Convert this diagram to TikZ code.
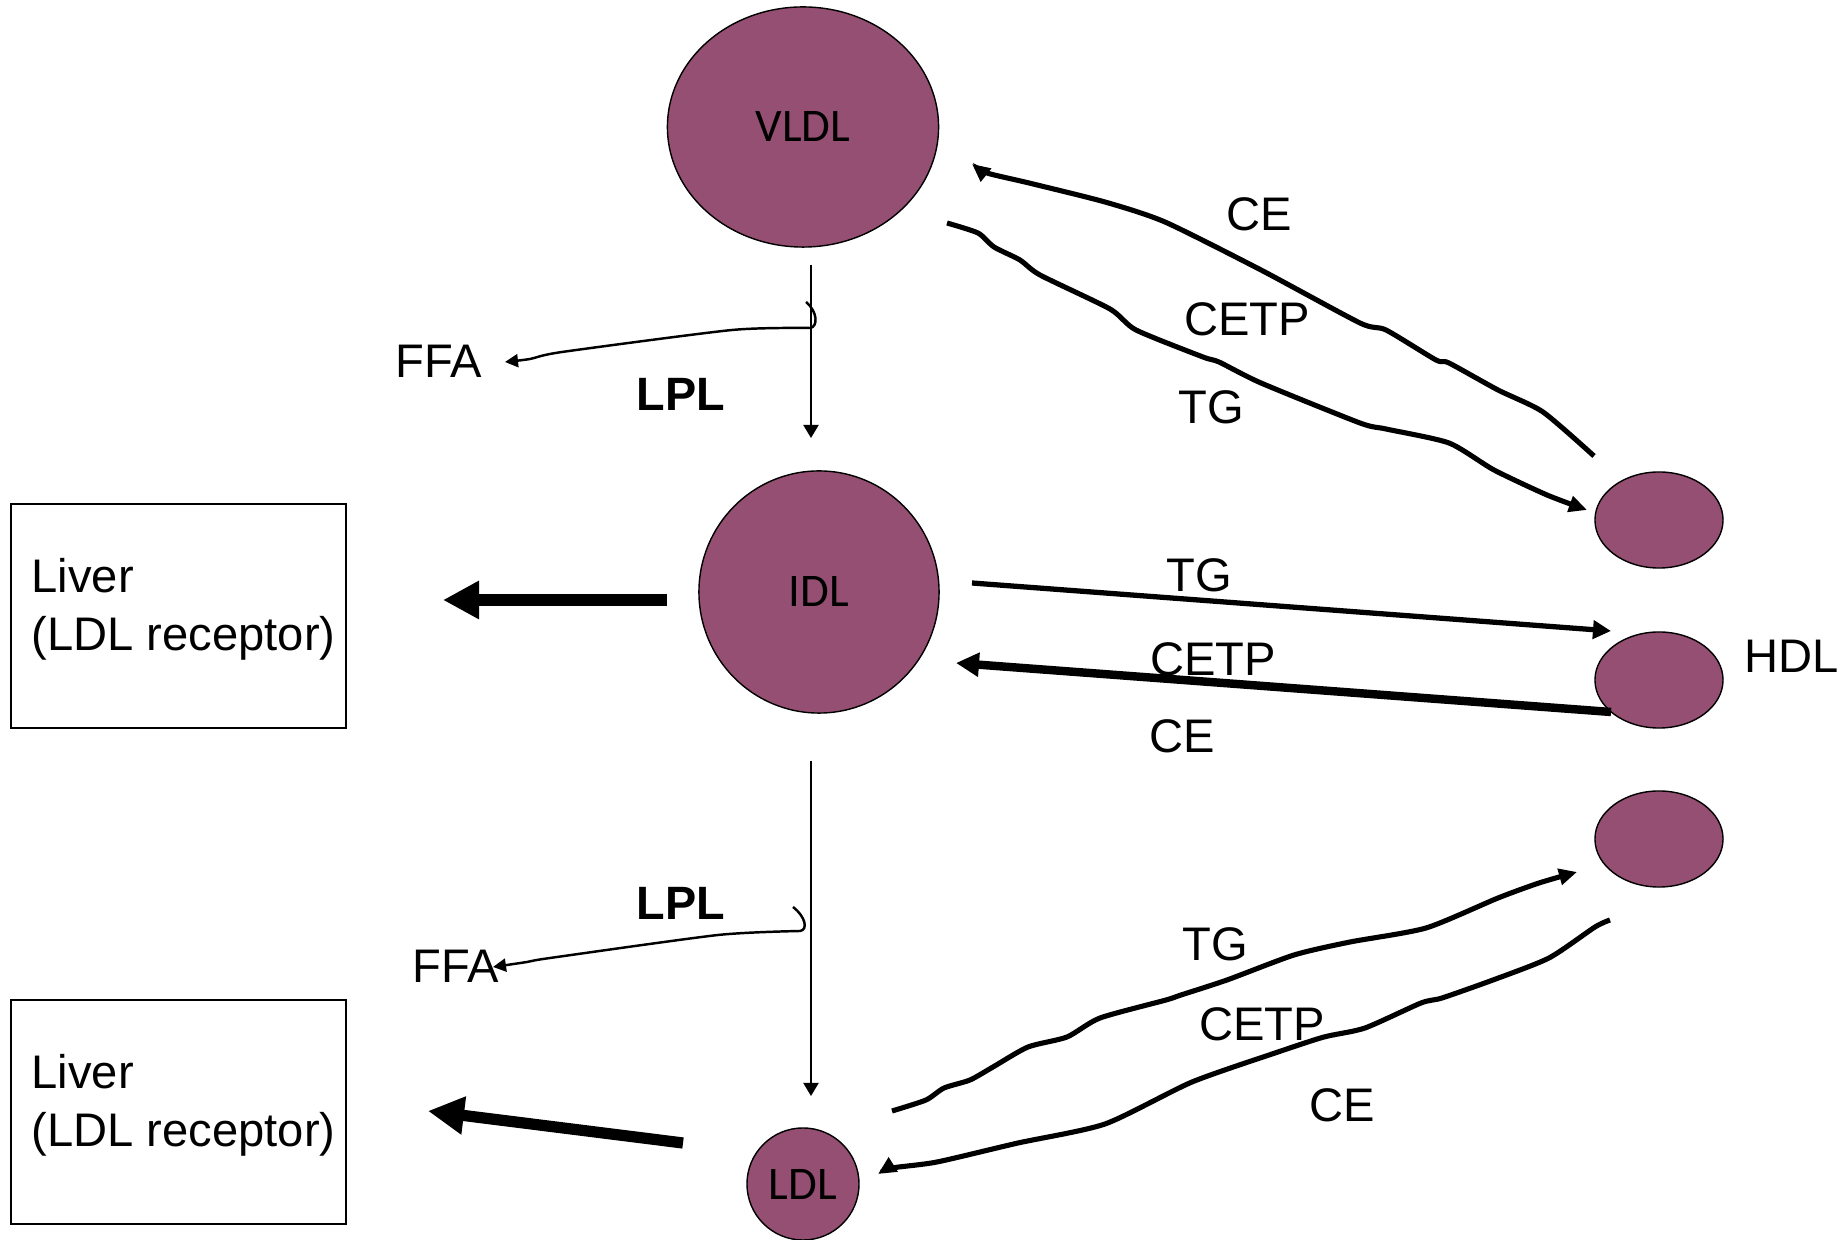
\documentclass[tikz,border=0pt]{standalone}
\usepackage{fontspec}
\setmainfont{Liberation Sans}
\newfontfamily\calfont{Carlito}
\usetikzlibrary{shapes.geometric,arrows.meta,positioning}
\definecolor{lipo}{RGB}{149,79,114}
\tikzset{
  particle/.style={draw,ellipse,fill=lipo,line width=0.4pt,inner sep=0pt,font=\calfont\fontsize{13.3}{16}\selectfont},
  lbl/.style={inner sep=0pt,font=\fontsize{13.4}{16.5}\selectfont},
  lblb/.style={inner sep=0pt,font=\bfseries\fontsize{13.3}{16}\selectfont},
  liverbox/.style={draw,line width=0.6pt,minimum width=3.35cm,minimum height=2.24cm,inner sep=0pt},
  thinarr/.style={line width=0.6pt,-{Triangle[length=0.13cm,width=0.15cm]}},
  ffaarr/.style={line width=0.7pt,-{Triangle[length=0.13cm,width=0.13cm]}},
  wave/.style={line width=1.45pt,-{Triangle[length=0.18cm,width=0.16cm]}},
  midarr/.style={line width=1.5pt,-{Triangle[length=0.18cm,width=0.18cm]}},
  midarrb/.style={line width=2.4pt,-{Triangle[length=0.23cm,width=0.23cm]}},
  bigarr/.style={line width=3.2pt,-{Triangle[length=0.36cm,width=0.36cm]}}
}
\begin{document}
\begin{tikzpicture}[x=0.01cm,y=-0.01cm]
    \useasboundingbox (0,0) rectangle (1847,1240);
    \node[particle,minimum width=2.71cm,minimum height=2.40cm](vldl)at (803,127){VLDL};
    \node[particle,minimum width=2.40cm,minimum height=2.42cm](idl)at (819,592){IDL};
    \node[particle,minimum width=1.12cm,minimum height=1.12cm](ldl)at (803,1184){LDL};
    \node[particle,minimum width=1.28cm,minimum height=0.96cm](hdl1)at (1659,520){};
    \node[particle,minimum width=1.28cm,minimum height=0.96cm](hdl2)at (1659,680){};
    \node[particle,minimum width=1.28cm,minimum height=0.96cm](hdl3)at (1659,839){};
    \node[lbl,anchor=west](hdl)at (1744,656){HDL};
    \node[liverbox](liver1)at (178.5,616){};
    \node[liverbox](liver2)at (178.5,1112){};
    \node[lbl,align=left,anchor=west](rec1)at (31,609){Liver\\(LDL receptor)};
    \node[lbl,align=left,anchor=west](rec2)at (31,1105){Liver\\(LDL receptor)};
    \node[lbl](ffa1)at (439,361){FFA};
    \node[lblb](lpl1)at (681,394){LPL};
    \node[lbl](ffa2)at (456,966){FFA};
    \node[lblb](lpl2)at (681,903){LPL};
    \node[lbl](ce1)at (1259,214){CE};
    \node[lbl](cetp1)at (1247,319){CETP};
    \node[lbl](tg1)at (1211,407){TG};
    \node[lbl](tg2)at (1199,575){TG};
    \node[lbl](cetp2)at (1213,659){CETP};
    \node[lbl](ce2)at (1182,736){CE};
    \node[lbl](tg3)at (1215,944){TG};
    \node[lbl](cetp3)at (1262,1024){CETP};
    \node[lbl](ce3)at (1342,1105){CE};
    \coordinate(v1)at (811,265);
    \coordinate(v2)at (811,438);
    \coordinate(v3)at (811,761);
    \coordinate(v4)at (811,1096);
    \draw[thinarr](v1)--(v2);
    \draw[thinarr](v3)--(v4);
    \coordinate(f1)at (806,302);
    \coordinate(f2)at (505,362);
    \coordinate(f3)at (793,907);
    \coordinate(f4)at (493,967);
    \draw[ffaarr](f1).. controls (818,312) and (818,327) ..(810,328)
        plot[smooth,tension=0.4] coordinates {(810,328) (732,330) (562,352) (530,359) (f2)};
    \draw[ffaarr](f3).. controls (806,917) and (808,930) ..(800,931)
        plot[smooth,tension=0.4] coordinates {(800,931) (718,935) (550,958) (527,962) (f4)};
    \coordinate(l1)at (667,600);
    \coordinate(l2)at (443,600);
    \coordinate(l3)at (683,1143);
    \coordinate(l4)at (428,1111);
    \draw[bigarr](l1)--(l2);
    \draw[bigarr](l3)--(l4);
    \coordinate(m1)at (972,583);
    \coordinate(m2)at (1611,631);
    \coordinate(m3)at (1611,712);
    \coordinate(m4)at (956,663);
    \draw[midarr](m1)--(m2);
    \draw[midarrb](m3)--(m4);
    \coordinate(w1)at (1594,456);
    \coordinate(w2)at (972,164);
    \coordinate(w3)at (947,223);
    \coordinate(w4)at (1587,510);
    \coordinate(w5)at (892,1111);
    \coordinate(w6)at (1577,872);
    \coordinate(w7)at (1610,920);
    \coordinate(w8)at (878,1174);
    \draw[wave] plot[smooth,tension=0.4] coordinates {(w1) (1543,412) (1498,390) (1449,363) (1436,360) (1386,330) (1360,323) (1261,270) (1165,222) (1105,202) (1029,183) (987,173) (w2)};
    \draw[wave] plot[smooth,tension=0.4] coordinates {(w3) (978,233) (994,247) (1020,260) (1040,275) (1110,309) (1136,330) (1203,357) (1219,362) (1261,383) (1360,423) (1386,429) (1449,443) (1494,470) (1547,495) (w4)};
    \draw[wave] plot[smooth,tension=0.4] coordinates {(w5) (926,1100) (944,1088) (970,1080) (993,1067) (1028,1047) (1067,1037) (1100,1018) (1166,1000) (1181,995) (1227,980) (1294,955) (1350,942) (1426,928) (1498,898) (1539,883) (w6)};
    \draw[wave] plot[smooth,tension=0.4] coordinates {(w7) (1595,927) (1549,958) (1493,980) (1442,998) (1421,1003) (1365,1028) (1324,1037) (1278,1052) (1192,1082) (1105,1124) (1018,1143) (937,1162) (892,1168) (w8)};
\end{tikzpicture}
\end{document}
